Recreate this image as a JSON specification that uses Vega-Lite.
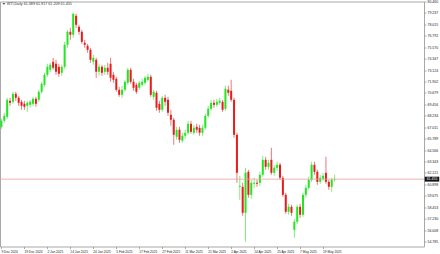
{
"$schema": "https://vega.github.io/schema/vega-lite/v6.json",
"width": 424, "height": 245, "autosize": "none",
"padding": {"left": 0, "top": 1.5, "right": 16, "bottom": 7.5},
"background": "white",
"config": {"view": {"stroke": "#a8a8a8", "strokeWidth": 1}, "font": "Liberation Sans",
 "axis": {"grid": false, "domain": false, "labelFont": "Liberation Sans", "labelColor": "#222", "tickColor": "#888", "tickWidth": 0.7, "labelOverlap": false, "labelBound": false, "labelFlush": false, "title": null},
 "axisX": {"labelAngle": 0, "labelAlign": "left", "labelFontSize": 3.2, "tickSize": 2, "labelPadding": 0.5},
 "axisY": {"labelFontSize": 3.5, "tickSize": 2, "labelPadding": 1, "labelBaseline": "middle"}},
"title": {"text": "▼ WTI,Daily  61.389 61.917 61.209 61.455", "anchor": "start", "frame": "group", "fontSize": 3.7, "fontWeight": "normal", "color": "#333", "offset": 0, "baseline": "top", "dx": 2, "dy": 6.5},
"datasets": {
"bars": [
{"d":"9 Dec 2024","o":67.056,"h":67.911,"l":66.842,"c":67.697},
{"d":"10 Dec 2024","o":67.697,"h":68.553,"l":67.483,"c":68.232},
{"d":"11 Dec 2024","o":68.125,"h":70.158,"l":67.911,"c":69.944},
{"d":"12 Dec 2024","o":69.837,"h":70.158,"l":69.302,"c":69.623},
{"d":"13 Dec 2024","o":69.730,"h":70.800,"l":69.516,"c":70.586},
{"d":"16 Dec 2024","o":70.586,"h":70.800,"l":69.837,"c":70.158},
{"d":"17 Dec 2024","o":70.158,"h":70.372,"l":69.302,"c":69.623},
{"d":"18 Dec 2024","o":69.730,"h":69.944,"l":68.874,"c":69.302},
{"d":"19 Dec 2024","o":69.516,"h":69.837,"l":68.874,"c":69.195},
{"d":"20 Dec 2024","o":69.302,"h":69.837,"l":68.660,"c":69.623},
{"d":"23 Dec 2024","o":69.409,"h":69.944,"l":69.088,"c":69.730},
{"d":"24 Dec 2024","o":69.516,"h":70.265,"l":69.302,"c":70.051},
{"d":"26 Dec 2024","o":70.051,"h":70.265,"l":69.195,"c":69.516},
{"d":"27 Dec 2024","o":69.944,"h":71.014,"l":69.730,"c":70.800},
{"d":"30 Dec 2024","o":70.800,"h":71.870,"l":70.586,"c":71.656},
{"d":"31 Dec 2024","o":71.549,"h":72.832,"l":71.335,"c":72.618},
{"d":"2 Jan 2025","o":72.618,"h":73.795,"l":72.405,"c":73.474},
{"d":"3 Jan 2025","o":73.153,"h":73.902,"l":72.939,"c":73.688},
{"d":"6 Jan 2025","o":74.009,"h":74.437,"l":73.153,"c":73.367},
{"d":"7 Jan 2025","o":73.795,"h":74.223,"l":72.618,"c":72.939},
{"d":"8 Jan 2025","o":73.474,"h":73.795,"l":72.405,"c":72.725},
{"d":"9 Jan 2025","o":72.832,"h":73.688,"l":72.512,"c":73.474},
{"d":"10 Jan 2025","o":73.474,"h":76.149,"l":73.260,"c":75.828},
{"d":"13 Jan 2025","o":75.828,"h":77.433,"l":75.507,"c":77.219},
{"d":"14 Jan 2025","o":77.219,"h":77.647,"l":76.363,"c":76.898},
{"d":"15 Jan 2025","o":76.898,"h":79.251,"l":76.577,"c":79.144},
{"d":"16 Jan 2025","o":78.930,"h":79.144,"l":77.647,"c":77.967},
{"d":"17 Jan 2025","o":77.754,"h":77.967,"l":76.898,"c":77.219},
{"d":"20 Jan 2025","o":77.219,"h":77.433,"l":75.935,"c":76.149},
{"d":"21 Jan 2025","o":76.042,"h":76.363,"l":75.507,"c":75.828},
{"d":"22 Jan 2025","o":75.721,"h":75.935,"l":74.972,"c":75.293},
{"d":"23 Jan 2025","o":75.293,"h":75.507,"l":73.902,"c":74.223},
{"d":"24 Jan 2025","o":74.009,"h":74.758,"l":73.688,"c":74.437},
{"d":"27 Jan 2025","o":74.223,"h":74.437,"l":72.298,"c":72.939},
{"d":"28 Jan 2025","o":72.939,"h":73.795,"l":72.512,"c":73.474},
{"d":"29 Jan 2025","o":73.474,"h":73.688,"l":72.512,"c":72.832},
{"d":"30 Jan 2025","o":72.939,"h":73.688,"l":72.618,"c":73.367},
{"d":"31 Jan 2025","o":73.367,"h":73.902,"l":72.618,"c":72.939},
{"d":"3 Feb 2025","o":73.795,"h":74.437,"l":71.870,"c":72.298},
{"d":"4 Feb 2025","o":72.618,"h":72.939,"l":71.763,"c":72.084},
{"d":"5 Feb 2025","o":72.191,"h":72.405,"l":70.800,"c":71.014},
{"d":"6 Feb 2025","o":71.014,"h":71.335,"l":70.265,"c":70.479},
{"d":"7 Feb 2025","o":70.479,"h":71.442,"l":70.158,"c":71.014},
{"d":"10 Feb 2025","o":71.014,"h":72.084,"l":70.800,"c":71.870},
{"d":"11 Feb 2025","o":71.763,"h":73.367,"l":71.549,"c":73.153},
{"d":"12 Feb 2025","o":73.153,"h":73.367,"l":71.656,"c":71.870},
{"d":"13 Feb 2025","o":71.870,"h":72.191,"l":70.907,"c":71.228},
{"d":"14 Feb 2025","o":71.549,"h":71.763,"l":70.586,"c":70.800},
{"d":"17 Feb 2025","o":71.228,"h":71.977,"l":71.014,"c":71.763},
{"d":"18 Feb 2025","o":71.549,"h":72.191,"l":71.335,"c":71.870},
{"d":"19 Feb 2025","o":71.763,"h":72.512,"l":71.549,"c":72.298},
{"d":"20 Feb 2025","o":72.084,"h":72.725,"l":71.870,"c":72.405},
{"d":"21 Feb 2025","o":72.405,"h":72.618,"l":70.265,"c":70.479},
{"d":"24 Feb 2025","o":70.265,"h":71.014,"l":69.944,"c":70.800},
{"d":"25 Feb 2025","o":70.693,"h":70.907,"l":68.767,"c":69.088},
{"d":"26 Feb 2025","o":69.516,"h":69.837,"l":68.553,"c":68.874},
{"d":"27 Feb 2025","o":68.874,"h":70.372,"l":68.660,"c":70.158},
{"d":"28 Feb 2025","o":70.158,"h":70.479,"l":69.302,"c":69.730},
{"d":"3 Mar 2025","o":69.944,"h":70.265,"l":68.232,"c":68.553},
{"d":"4 Mar 2025","o":68.339,"h":68.874,"l":67.163,"c":67.804},
{"d":"5 Mar 2025","o":67.804,"h":68.018,"l":65.130,"c":66.200},
{"d":"6 Mar 2025","o":65.986,"h":67.056,"l":65.665,"c":66.735},
{"d":"7 Mar 2025","o":66.735,"h":67.056,"l":65.344,"c":65.665},
{"d":"10 Mar 2025","o":65.558,"h":66.414,"l":65.344,"c":66.093},
{"d":"11 Mar 2025","o":66.093,"h":66.735,"l":65.772,"c":66.414},
{"d":"12 Mar 2025","o":66.414,"h":67.697,"l":66.200,"c":67.376},
{"d":"13 Mar 2025","o":67.376,"h":67.697,"l":66.307,"c":66.521},
{"d":"14 Mar 2025","o":66.414,"h":67.270,"l":66.200,"c":66.949},
{"d":"17 Mar 2025","o":67.056,"h":67.376,"l":66.414,"c":66.735},
{"d":"18 Mar 2025","o":66.949,"h":67.270,"l":66.093,"c":66.414},
{"d":"19 Mar 2025","o":66.414,"h":67.270,"l":66.093,"c":66.949},
{"d":"20 Mar 2025","o":66.949,"h":68.446,"l":66.735,"c":68.232},
{"d":"21 Mar 2025","o":68.232,"h":69.302,"l":68.018,"c":68.981},
{"d":"24 Mar 2025","o":68.981,"h":69.944,"l":68.767,"c":69.623},
{"d":"25 Mar 2025","o":69.623,"h":69.944,"l":69.088,"c":69.409},
{"d":"26 Mar 2025","o":69.409,"h":70.051,"l":69.195,"c":69.730},
{"d":"27 Mar 2025","o":69.623,"h":70.158,"l":69.409,"c":69.837},
{"d":"28 Mar 2025","o":69.730,"h":69.944,"l":68.660,"c":68.874},
{"d":"31 Mar 2025","o":68.981,"h":71.442,"l":68.767,"c":71.121},
{"d":"1 Apr 2025","o":71.014,"h":71.442,"l":70.372,"c":70.693},
{"d":"2 Apr 2025","o":70.907,"h":72.084,"l":69.730,"c":69.944},
{"d":"3 Apr 2025","o":69.944,"h":70.158,"l":65.879,"c":66.200},
{"d":"4 Apr 2025","o":66.200,"h":66.414,"l":61.065,"c":62.134},
{"d":"7 Apr 2025","o":60.637,"h":61.814,"l":59.246,"c":60.744},
{"d":"8 Apr 2025","o":60.637,"h":61.065,"l":57.534,"c":57.855},
{"d":"9 Apr 2025","o":57.855,"h":62.669,"l":54.753,"c":62.134},
{"d":"10 Apr 2025","o":62.241,"h":62.455,"l":59.460,"c":59.781},
{"d":"11 Apr 2025","o":59.781,"h":61.386,"l":59.353,"c":61.065},
{"d":"14 Apr 2025","o":60.958,"h":61.600,"l":60.530,"c":61.065},
{"d":"15 Apr 2025","o":61.065,"h":61.386,"l":60.637,"c":60.958},
{"d":"16 Apr 2025","o":61.065,"h":62.241,"l":60.744,"c":61.920},
{"d":"17 Apr 2025","o":61.920,"h":63.953,"l":61.707,"c":63.525},
{"d":"21 Apr 2025","o":63.525,"h":63.846,"l":62.455,"c":62.776},
{"d":"22 Apr 2025","o":62.776,"h":63.525,"l":62.455,"c":63.204},
{"d":"23 Apr 2025","o":63.525,"h":64.809,"l":61.920,"c":62.134},
{"d":"24 Apr 2025","o":62.134,"h":62.990,"l":61.814,"c":62.669},
{"d":"25 Apr 2025","o":62.669,"h":63.311,"l":62.348,"c":62.990},
{"d":"28 Apr 2025","o":62.990,"h":63.204,"l":61.386,"c":61.600},
{"d":"29 Apr 2025","o":61.600,"h":61.814,"l":59.567,"c":59.781},
{"d":"30 Apr 2025","o":59.781,"h":59.995,"l":57.748,"c":57.962},
{"d":"1 May 2025","o":57.962,"h":58.818,"l":57.641,"c":58.497},
{"d":"2 May 2025","o":58.497,"h":58.711,"l":57.534,"c":57.855},
{"d":"5 May 2025","o":56.037,"h":57.213,"l":55.181,"c":56.892},
{"d":"6 May 2025","o":56.892,"h":58.711,"l":56.678,"c":58.497},
{"d":"7 May 2025","o":58.497,"h":58.818,"l":57.320,"c":57.641},
{"d":"8 May 2025","o":57.641,"h":59.995,"l":57.427,"c":59.781},
{"d":"9 May 2025","o":59.781,"h":60.851,"l":59.460,"c":60.530},
{"d":"12 May 2025","o":60.530,"h":61.707,"l":60.316,"c":61.386},
{"d":"13 May 2025","o":61.386,"h":63.311,"l":61.172,"c":62.990},
{"d":"14 May 2025","o":62.990,"h":63.311,"l":61.920,"c":62.241},
{"d":"15 May 2025","o":62.241,"h":62.455,"l":60.851,"c":61.172},
{"d":"16 May 2025","o":61.172,"h":61.920,"l":60.958,"c":61.600},
{"d":"19 May 2025","o":61.493,"h":62.134,"l":61.279,"c":61.814},
{"d":"20 May 2025","o":62.134,"h":63.846,"l":60.958,"c":61.172},
{"d":"21 May 2025","o":61.172,"h":61.386,"l":60.316,"c":60.637},
{"d":"22 May 2025","o":60.637,"h":61.600,"l":60.102,"c":61.386},
{"d":"23 May 2025","o":61.389,"h":61.917,"l":61.209,"c":61.455}
],
"last": [{"price": 61.455, "label": "61.455"}]
},
"layer": [
{"data": {"name": "bars"},
 "mark": {"type": "rule", "strokeWidth": 0.6},
 "encoding": {
  "x": {"field": "d", "type": "ordinal", "sort": null,
   "scale": {"range": [0, 336], "paddingInner": 0, "paddingOuter": 0},
   "axis": {"values": ["9 Dec 2024","19 Dec 2024","2 Jan 2025","14 Jan 2025","24 Jan 2025","5 Feb 2025","17 Feb 2025","27 Feb 2025","11 Mar 2025","21 Mar 2025","2 Apr 2025","14 Apr 2025","25 Apr 2025","7 May 2025","19 May 2025"], "labelOverlap": false}},
  "y": {"field": "l", "type": "quantitative",
   "scale": {"domain": [54.25, 80.46], "zero": false, "nice": false},
   "axis": {"orient": "right", "values": [80.460,79.237,78.015,76.792,75.570,74.347,73.124,71.902,70.679,69.456,68.234,67.011,65.789,64.566,63.343,62.121,60.898,59.675,58.453,57.230,56.008,54.785], "format": ".3f", "labelOverlap": false}},
  "y2": {"field": "h"},
  "color": {"condition": {"test": "datum.c >= datum.o", "value": "#22e622"}, "value": "#e81c1c"}
 }},
{"data": {"name": "bars"},
 "mark": {"type": "bar", "width": 2},
 "encoding": {
  "x": {"field": "d", "type": "ordinal", "sort": null,
   "axis": {"values": ["9 Dec 2024","19 Dec 2024","2 Jan 2025","14 Jan 2025","24 Jan 2025","5 Feb 2025","17 Feb 2025","27 Feb 2025","11 Mar 2025","21 Mar 2025","2 Apr 2025","14 Apr 2025","25 Apr 2025","7 May 2025","19 May 2025"], "labelOverlap": false}},
  "y": {"field": "o", "type": "quantitative",
   "axis": {"orient": "right", "values": [80.460,79.237,78.015,76.792,75.570,74.347,73.124,71.902,70.679,69.456,68.234,67.011,65.789,64.566,63.343,62.121,60.898,59.675,58.453,57.230,56.008,54.785], "format": ".3f", "labelOverlap": false}},
  "y2": {"field": "c"},
  "color": {"condition": {"test": "datum.c >= datum.o", "value": "#22e622"}, "value": "#e81c1c"}
 }},
{"data": {"name": "last"},
 "mark": {"type": "rule", "color": "#eaa0a0", "strokeWidth": 0.8},
 "encoding": {"y": {"field": "price", "type": "quantitative",
   "axis": {"orient": "right", "values": [80.460,79.237,78.015,76.792,75.570,74.347,73.124,71.902,70.679,69.456,68.234,67.011,65.789,64.566,63.343,62.121,60.898,59.675,58.453,57.230,56.008,54.785], "format": ".3f", "labelOverlap": false}}}},
{"data": {"name": "last"},
 "mark": {"type": "point", "filled": true, "color": "#111", "opacity": 1, "shape": "M-1,-0.34H1V0.34H-1Z", "size": 210, "x": {"expr": "width + 8"}, "clip": false},
 "encoding": {"y": {"field": "price", "type": "quantitative",
   "axis": {"orient": "right", "values": [80.460,79.237,78.015,76.792,75.570,74.347,73.124,71.902,70.679,69.456,68.234,67.011,65.789,64.566,63.343,62.121,60.898,59.675,58.453,57.230,56.008,54.785], "format": ".3f", "labelOverlap": false}}}},
{"data": {"name": "last"},
 "mark": {"type": "text", "color": "white", "fontSize": 3.5, "align": "center", "baseline": "middle", "x": {"expr": "width + 8"}},
 "encoding": {"y": {"field": "price", "type": "quantitative",
   "axis": {"orient": "right", "values": [80.460,79.237,78.015,76.792,75.570,74.347,73.124,71.902,70.679,69.456,68.234,67.011,65.789,64.566,63.343,62.121,60.898,59.675,58.453,57.230,56.008,54.785], "format": ".3f", "labelOverlap": false}}, "text": {"field": "label"}}}
]
}
